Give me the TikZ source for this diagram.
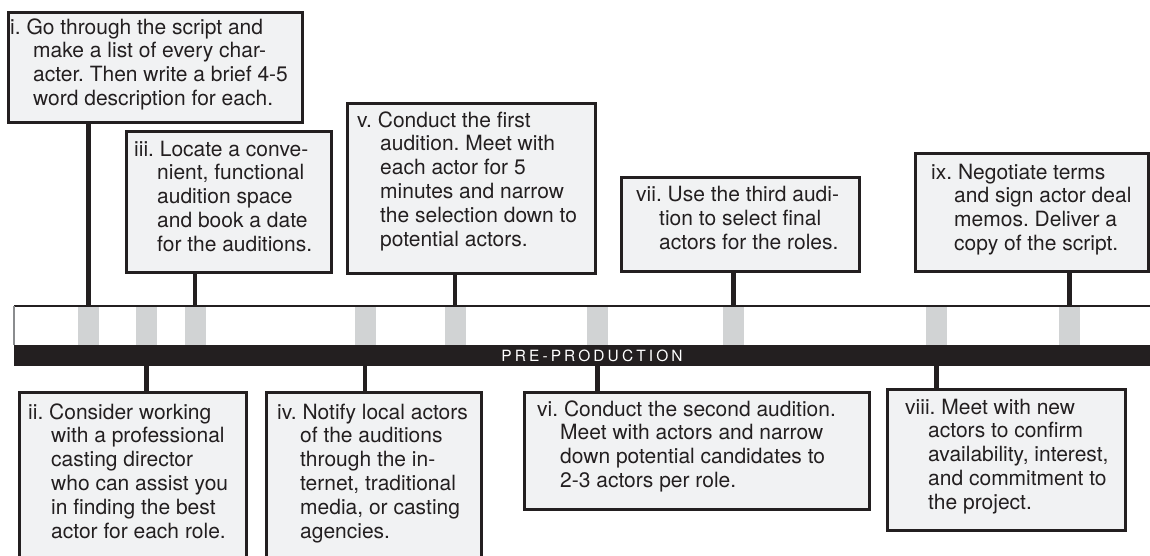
\documentclass[tikz,border=0pt]{standalone}
\usepackage{fontspec}
\setmainfont{TeX Gyre Heros}
\newfontfamily\phasefont[LetterSpace=20]{TeX Gyre Heros}
\usetikzlibrary{calc}

\definecolor{ink}{HTML}{231F20}
\definecolor{boxfill}{HTML}{F1F2F3}
\definecolor{tickgray}{HTML}{D1D3D4}
\definecolor{edgegray}{HTML}{8A8C8E}

% step text: numbered first line, later lines hang by a fixed indent
\newcommand{\steptext}[1]{\parbox[t]{420pt}{\frenchspacing\fontsize{21}{23.8}\selectfont\hangindent=23pt\hangafter=1\noindent #1}}

\tikzset{
  stepbox/.style={rectangle, draw=ink, line width=2.7pt, fill=boxfill, inner sep=0pt, anchor=north west},
  steplabel/.style={inner sep=0pt, anchor=base west, text=ink},
  tickmark/.style={rectangle, fill=tickgray, minimum width=21pt, minimum height=39pt, inner sep=0pt},
  stem/.style={draw=ink, line width=4.5pt},
}

\begin{document}
\begin{tikzpicture}[x=1pt, y=-1pt]
\useasboundingbox (0,0) rectangle (1150,555);

% timeline bar
\node[fill=white, minimum width=1140pt, minimum height=39pt, inner sep=0pt, anchor=north west] (bar) at (14,306) {};
\foreach \x/\n in {88.5/1, 146.7/2, 195/3, 365/4, 455/5, 597.5/6, 733.5/7, 936.5/8, 1069.5/9}
  \node[tickmark] (k\n) at (\x,325.5) {};
\draw[ink, line width=2.5pt] (bar.north west) -- (bar.north east);
\node[fill=ink, minimum width=1140pt, minimum height=21pt, inner sep=0pt, anchor=north west] (band) at (14,345) {};
\draw[edgegray, line width=1.5pt] (bar.north west) -- (band.north west);
\node[text=white, inner sep=0pt] (phase) at (592,355.5) {\phasefont\fontsize{15.5}{15.5}\selectfont PRE-PRODUCTION};

% step boxes above the bar
\node[stepbox, minimum width=294pt, minimum height=110pt] (b1) at (7,11) {};
\node[steplabel] (t1) at (10,34) {\steptext{i. Go through the script and\\make a list of every char-\\acter. Then write a brief 4-5\\word description for each.}};

\node[stepbox, minimum width=205pt, minimum height=141pt] (b3) at (125,130) {};
\node[steplabel] (t3) at (134,156) {\steptext{iii. Locate a conve-\\nient, functional\\audition space\\and book a date\\for the auditions.}};

\node[stepbox, minimum width=248pt, minimum height=170pt] (b5) at (346,102) {};
\node[steplabel] (t5) at (357,127) {\steptext{v. Conduct the first\\audition. Meet with\\each actor for 5\\minutes and narrow\\the selection down to\\potential actors.}};

\node[stepbox, minimum width=238pt, minimum height=94pt] (b7) at (620,176) {};
\node[steplabel] (t7) at (636,201.5) {\steptext{vii. Use the third audi-\\tion to select final\\actors for the roles.}};

\node[stepbox, minimum width=233pt, minimum height=118pt] (b9) at (914,152) {};
\node[steplabel] (t9) at (931,179) {\steptext{ix. Negotiate terms\\and sign actor deal\\memos. Deliver a\\copy of the script.}};

% step boxes below the bar
\node[stepbox, minimum width=227pt, minimum height=175pt] (b2) at (18,391) {};
\node[steplabel] (t2) at (28,419) {\steptext{ii. Consider working\\with a professional\\casting director\\who can assist you\\in finding the best\\actor for each role.}};

\node[stepbox, minimum width=215pt, minimum height=175pt] (b4) at (265,391) {};
\node[steplabel] (t4) at (277,419) {\steptext{iv. Notify local actors\\of the auditions\\through the in-\\ternet, traditional\\media, or casting\\agencies.}};

\node[stepbox, minimum width=345pt, minimum height=117pt] (b6) at (523,391) {};
\node[steplabel] (t6) at (537,416) {\steptext{vi. Conduct the second audition.\\Meet with actors and narrow\\down potential candidates to\\2-3 actors per role.}};

\node[stepbox, minimum width=238pt, minimum height=141pt] (b8) at (886,388) {};
\node[steplabel] (t8) at (905,414) {\steptext{viii. Meet with new\\actors to confirm\\availability, interest,\\and commitment to\\the project.}};

% stems from the upper boxes down to the bar
\foreach \b/\k in {b1/k1, b3/k3, b5/k5, b7/k7, b9/k9}
  \draw[stem] (\b.south -| \k) -- (\k.north);

% stems from the band down to the lower boxes
\foreach \b/\k in {b2/k2, b4/k4, b6/k6, b8/k8}
  \draw[stem] (band.south -| \k) -- (\b.north -| \k);
\end{tikzpicture}
\end{document}
